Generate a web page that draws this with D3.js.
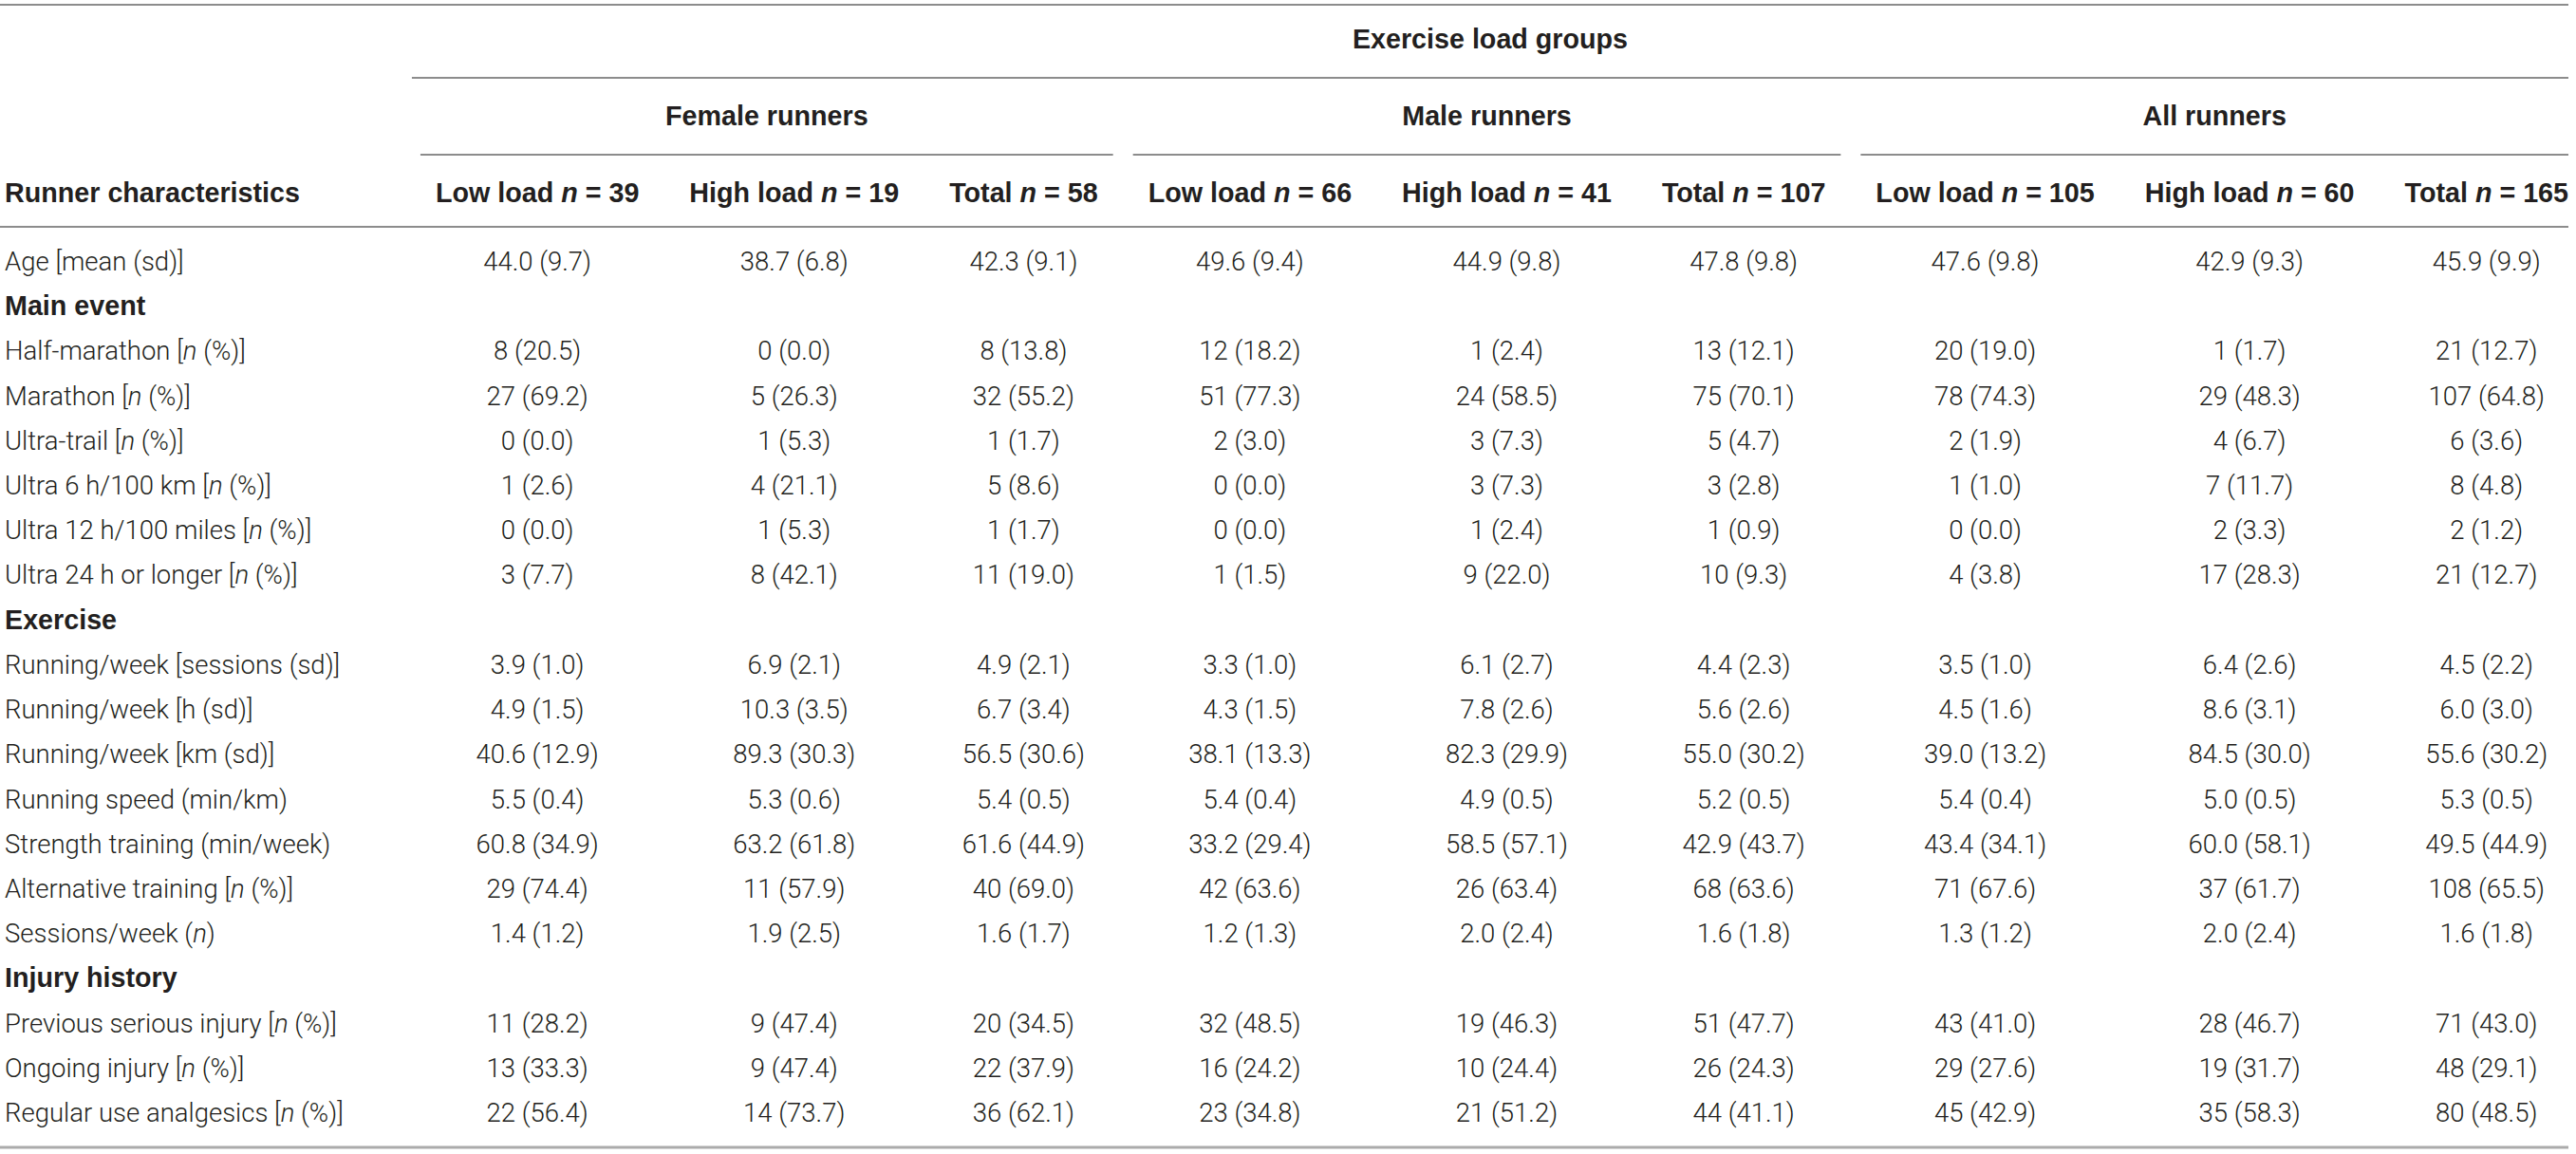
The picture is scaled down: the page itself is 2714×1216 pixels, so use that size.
<!DOCTYPE html>
<html>
<head>
<meta charset="utf-8">
<script src="https://cdn.jsdelivr.net/npm/d3@7"></script>
<style>
  body { margin: 0; background: #fff; }
  svg { display: block; }
  .body-text { font-family: Roboto, "Liberation Sans", sans-serif; font-weight: 300; font-size: 27.5px; fill: #231f20; }
  .bold-text { font-family: "Liberation Sans", Arial, sans-serif; font-weight: bold; font-size: 28.7px; fill: #231f20; }
</style>
</head>
<body>
<svg id="chart"></svg>
<script>
// Table content. "_n_" marks an italic n.
const spanner = 'Exercise load groups';
const groupNames = ['Female runners', 'Male runners', 'All runners'];
const loadNames = ['Low load', 'High load', 'Total'];
const groupN = [[39, 19, 58], [66, 41, 107], [105, 60, 165]];

const rowLabels = [
    'Age [mean (sd)]',
    'Main event',
    'Half-marathon [_n_ (%)]',
    'Marathon [_n_ (%)]',
    'Ultra-trail [_n_ (%)]',
    'Ultra 6 h/100 km [_n_ (%)]',
    'Ultra 12 h/100 miles [_n_ (%)]',
    'Ultra 24 h or longer [_n_ (%)]',
    'Exercise',
    'Running/week [sessions (sd)]',
    'Running/week [h (sd)]',
    'Running/week [km (sd)]',
    'Running speed (min/km)',
    'Strength training (min/week)',
    'Alternative training [_n_ (%)]',
    'Sessions/week (_n_)',
    'Injury history',
    'Previous serious injury [_n_ (%)]',
    'Ongoing injury [_n_ (%)]',
    'Regular use analgesics [_n_ (%)]'
];
const sectionRows = ['Main event', 'Exercise', 'Injury history'];

const femaleLow = ['44.0 (9.7)', '', '8 (20.5)', '27 (69.2)', '0 (0.0)', '1 (2.6)', '0 (0.0)', '3 (7.7)', '',
    '3.9 (1.0)', '4.9 (1.5)', '40.6 (12.9)', '5.5 (0.4)', '60.8 (34.9)', '29 (74.4)', '1.4 (1.2)', '',
    '11 (28.2)', '13 (33.3)', '22 (56.4)'];
const femaleHigh = ['38.7 (6.8)', '', '0 (0.0)', '5 (26.3)', '1 (5.3)', '4 (21.1)', '1 (5.3)', '8 (42.1)', '',
    '6.9 (2.1)', '10.3 (3.5)', '89.3 (30.3)', '5.3 (0.6)', '63.2 (61.8)', '11 (57.9)', '1.9 (2.5)', '',
    '9 (47.4)', '9 (47.4)', '14 (73.7)'];
const femaleTotal = ['42.3 (9.1)', '', '8 (13.8)', '32 (55.2)', '1 (1.7)', '5 (8.6)', '1 (1.7)', '11 (19.0)', '',
    '4.9 (2.1)', '6.7 (3.4)', '56.5 (30.6)', '5.4 (0.5)', '61.6 (44.9)', '40 (69.0)', '1.6 (1.7)', '',
    '20 (34.5)', '22 (37.9)', '36 (62.1)'];
const maleLow = ['49.6 (9.4)', '', '12 (18.2)', '51 (77.3)', '2 (3.0)', '0 (0.0)', '0 (0.0)', '1 (1.5)', '',
    '3.3 (1.0)', '4.3 (1.5)', '38.1 (13.3)', '5.4 (0.4)', '33.2 (29.4)', '42 (63.6)', '1.2 (1.3)', '',
    '32 (48.5)', '16 (24.2)', '23 (34.8)'];
const maleHigh = ['44.9 (9.8)', '', '1 (2.4)', '24 (58.5)', '3 (7.3)', '3 (7.3)', '1 (2.4)', '9 (22.0)', '',
    '6.1 (2.7)', '7.8 (2.6)', '82.3 (29.9)', '4.9 (0.5)', '58.5 (57.1)', '26 (63.4)', '2.0 (2.4)', '',
    '19 (46.3)', '10 (24.4)', '21 (51.2)'];
const maleTotal = ['47.8 (9.8)', '', '13 (12.1)', '75 (70.1)', '5 (4.7)', '3 (2.8)', '1 (0.9)', '10 (9.3)', '',
    '4.4 (2.3)', '5.6 (2.6)', '55.0 (30.2)', '5.2 (0.5)', '42.9 (43.7)', '68 (63.6)', '1.6 (1.8)', '',
    '51 (47.7)', '26 (24.3)', '44 (41.1)'];
const allLow = ['47.6 (9.8)', '', '20 (19.0)', '78 (74.3)', '2 (1.9)', '1 (1.0)', '0 (0.0)', '4 (3.8)', '',
    '3.5 (1.0)', '4.5 (1.6)', '39.0 (13.2)', '5.4 (0.4)', '43.4 (34.1)', '71 (67.6)', '1.3 (1.2)', '',
    '43 (41.0)', '29 (27.6)', '45 (42.9)'];
const allHigh = ['42.9 (9.3)', '', '1 (1.7)', '29 (48.3)', '4 (6.7)', '7 (11.7)', '2 (3.3)', '17 (28.3)', '',
    '6.4 (2.6)', '8.6 (3.1)', '84.5 (30.0)', '5.0 (0.5)', '60.0 (58.1)', '37 (61.7)', '2.0 (2.4)', '',
    '28 (46.7)', '19 (31.7)', '35 (58.3)'];
const allTotal = ['45.9 (9.9)', '', '21 (12.7)', '107 (64.8)', '6 (3.6)', '8 (4.8)', '2 (1.2)', '21 (12.7)', '',
    '4.5 (2.2)', '6.0 (3.0)', '55.6 (30.2)', '5.3 (0.5)', '49.5 (44.9)', '108 (65.5)', '1.6 (1.8)', '',
    '71 (43.0)', '48 (29.1)', '80 (48.5)'];

const columnValues = [femaleLow, femaleHigh, femaleTotal, maleLow, maleHigh, maleTotal, allLow, allHigh, allTotal];

// ---- layout ----
const W = 2714, H = 1216;
const tableRight = 2706;
const colGap = 53;
const rule = {top: 5, spanner: 82, group: 163, header: 239, bottom: 1209};
const baseline = {spanner: 51, group: 132, header: 213};

const svg = d3.select('#chart').attr('width', W).attr('height', H);

// write text with italic "n" pieces
function richText(sel, str) {
    str.split('_').forEach((part, i) => {
        if (part === '') return;
        sel.append('tspan')
            .style('font-style', i % 2 === 1 ? 'italic' : null)
            .text(part);
    });
}

// column headers, flattened
const columns = [];
groupNames.forEach((g, gi) => {
    loadNames.forEach((l, li) => {
        columns.push({key: `${gi}-${li}`, group: gi, text: `${l} _n_ = ${groupN[gi][li]}`, values: columnValues[gi * 3 + li]});
    });
});

// header texts first (so they can be measured)
const headerText = svg.append('g').selectAll('text')
    .data(columns)
    .join('text')
    .attr('class', 'bold-text')
    .attr('text-anchor', 'middle')
    .attr('y', baseline.header)
    .each(function(d) { richText(d3.select(this), d.text); });

headerText.each(function(d) { d.width = this.getComputedTextLength(); });

// column widths from content, packed against the right edge
const colWidths = columns.map(d => d.width + colGap);
const totalW = d3.sum(colWidths) - colGap;
let cursor = tableRight - totalW;
columns.forEach((d, i) => {
    d.left = cursor;
    d.right = cursor + d.width;
    cursor += colWidths[i];
});

const x = d3.scaleOrdinal()
    .domain(columns.map(d => d.key))
    .range(columns.map(d => (d.left + d.right) / 2));

headerText.attr('x', d => x(d.key));

const y = d3.scalePoint()
    .domain(d3.range(rowLabels.length))
    .range([285, 1182]);

// rules
const rules = svg.append('g')
    .attr('stroke', '#8c8c8c')
    .attr('stroke-width', 2);

[rule.top, rule.header].forEach(yy => {
    rules.append('line').attr('x1', 0).attr('x2', tableRight).attr('y1', yy).attr('y2', yy);
});
rules.append('line')
    .attr('x1', columns[0].left - 25).attr('x2', tableRight)
    .attr('y1', rule.spanner).attr('y2', rule.spanner);

const groups = groupNames.map((name, gi) => {
    const cols = columns.filter(c => c.group === gi);
    return {
        name,
        x1: d3.min(cols, c => c.left) - 16,
        x2: Math.min(tableRight, d3.max(cols, c => c.right) + 16)
    };
});

rules.selectAll('.group-rule')
    .data(groups)
    .join('line')
    .attr('class', 'group-rule')
    .attr('x1', d => d.x1).attr('x2', d => d.x2)
    .attr('y1', rule.group).attr('y2', rule.group);

svg.append('line')
    .attr('x1', 0).attr('x2', tableRight)
    .attr('y1', rule.bottom).attr('y2', rule.bottom)
    .attr('stroke', '#ababab')
    .attr('stroke-width', 3);

// spanner and group headings
svg.append('text')
    .attr('class', 'bold-text')
    .attr('text-anchor', 'middle')
    .attr('x', (columns[0].left - 25 + tableRight) / 2)
    .attr('y', baseline.spanner)
    .text(spanner);

svg.append('g').selectAll('text')
    .data(groups)
    .join('text')
    .attr('class', 'bold-text')
    .attr('text-anchor', 'middle')
    .attr('x', d => (d.x1 + d.x2) / 2)
    .attr('y', baseline.group)
    .text(d => d.name);

svg.append('text')
    .attr('class', 'bold-text')
    .attr('x', 5)
    .attr('y', baseline.header)
    .text('Runner characteristics');

// row labels
svg.append('g').selectAll('text')
    .data(rowLabels)
    .join('text')
    .attr('class', d => sectionRows.includes(d) ? 'bold-text' : 'body-text')
    .attr('x', 5)
    .attr('y', (d, i) => y(i))
    .each(function(d) { richText(d3.select(this), d); });

// cells
const cells = [];
columns.forEach(c => {
    c.values.forEach((v, ri) => {
        if (v !== '') cells.push({key: c.key, row: ri, value: v});
    });
});

svg.append('g').selectAll('text')
    .data(cells)
    .join('text')
    .attr('class', 'body-text')
    .attr('text-anchor', 'middle')
    .attr('x', d => x(d.key))
    .attr('y', d => y(d.row))
    .text(d => d.value);
</script>
</body>
</html>
